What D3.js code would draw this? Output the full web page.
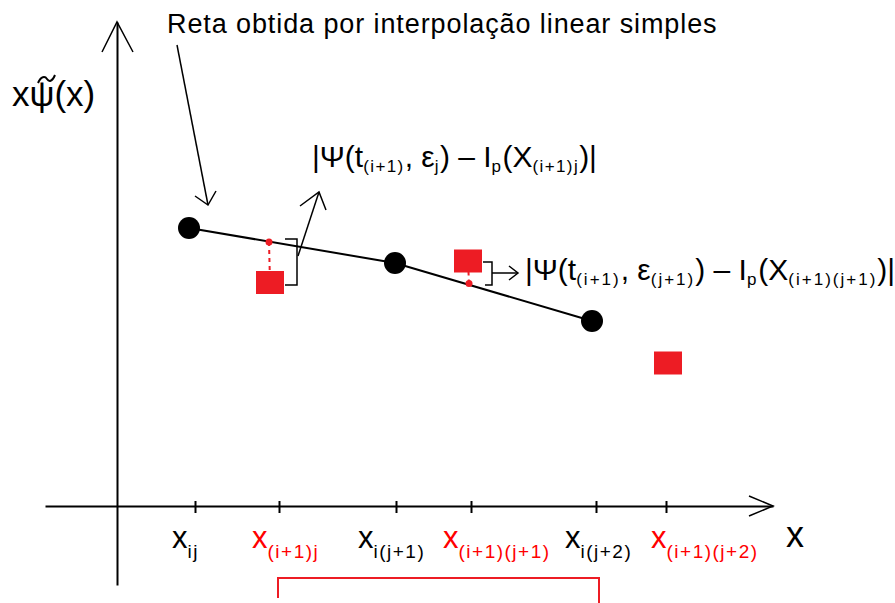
<!DOCTYPE html>
<html>
<head>
<meta charset="utf-8">
<script src="https://cdn.jsdelivr.net/npm/d3@7"></script>
<style>
  body { margin: 0; background: #fff; }
  text { font-family: "Liberation Sans", Arial, sans-serif; }
</style>
</head>
<body>
<div id="chart"></div>
<script>
// tick labels along the x axis (subscripts) and where they sit
var tickSubs = ["ij", "(i+1)j", "i(j+1)", "(i+1)(j+1)", "i(j+2)", "(i+1)(j+2)"];
var tickVals = [0.39, 0.81, 1.395, 1.77, 2.395, 2.745];
var tickRed = [false, true, false, true, false, true];

// known points (black) joined by the interpolation line
var knotX = [0.36, 1.39, 2.375];
var knotY = [1.39, 1.215, 0.925];

// new samples (red squares)
var sampleX = [0.765, 1.755, 2.755];
var sampleY = [1.1175, 1.225, 0.715];

// interpolated value on the line for the first two samples
var interpX = [0.76, 1.76];
var interpY = [1.32, 1.1125];

var width = 895, height = 603;
var red = "#ed1c24";

var svg = d3.select("#chart")
    .append("svg")
    .attr("width", width)
    .attr("height", height);

var x = d3.scaleLinear().domain([-0.36, 3.28]).range([45, 773]);
var y = d3.scaleLinear().domain([-0.395, 2.42]).range([585, 22]);

// axes
var xAxis = svg.append("g")
    .attr("transform", "translate(0," + y(0) + ")")
    .call(d3.axisBottom(x).tickValues(tickVals).tickFormat("").tickSizeOuter(0).tickSizeInner(7));
xAxis.selectAll(".tick line").attr("y1", -5).attr("stroke-width", 2);
xAxis.select(".domain").attr("stroke-width", 2);

var yAxis = svg.append("g")
    .attr("transform", "translate(" + x(0) + ",0)")
    .call(d3.axisLeft(y).tickValues([]).tickSizeOuter(0));
yAxis.select(".domain").attr("stroke-width", 2);

function arrowHead(tip, a, b) {
    svg.append("path")
        .attr("d", "M" + a + "L" + tip + "L" + b)
        .attr("fill", "none")
        .attr("stroke", "#000")
        .attr("stroke-width", 1.5);
}
arrowHead([x(3.28), y(0)], [749, 496], [749, 516]);
arrowHead([x(0), y(2.42)], [102, 52], [133, 52]);

// tick labels
var labelShift = [-23, -27, -38, -28, -31, -15];
tickVals.forEach(function(v, i) {
    var t = svg.append("text")
        .attr("x", x(v) + labelShift[i])
        .attr("y", 548)
        .attr("fill", tickRed[i] ? "#f00" : "#000");
    t.append("tspan").style("font-size", "31px").text("x");
    t.append("tspan").style("font-size", "19px").attr("dy", 10)
        .attr("letter-spacing", 1.5).text(tickSubs[i]);
});

svg.append("text").attr("x", 786).attr("y", 547)
    .style("font-size", "36px").text("x");

// y label x psi~(x)
var yl = svg.append("text").attr("x", 12).attr("y", 106).style("font-size", "35px");
yl.append("tspan").text("x");
yl.append("tspan").text("\u03c8");
yl.append("tspan").text("(x)");
svg.append("path")
    .attr("d", "M38,83 C41,76 45,76 47,79 S52,82 55,75")
    .attr("fill", "none").attr("stroke", "#000").attr("stroke-width", 2);

// interpolation line
var pts = knotX.map(function(d, i) { return [d, knotY[i]]; });
svg.append("path")
    .datum(pts)
    .attr("d", d3.line().x(function(d) { return x(d[0]); }).y(function(d) { return y(d[1]); }))
    .attr("fill", "none")
    .attr("stroke", "#000")
    .attr("stroke-width", 2);

// dashed connectors sample -> line
interpX.forEach(function(v, i) {
    svg.append("line")
        .attr("x1", x(v)).attr("y1", y(interpY[i]))
        .attr("x2", x(sampleX[i])).attr("y2", y(sampleY[i]))
        .attr("stroke", red)
        .attr("stroke-width", 2)
        .attr("stroke-dasharray", "4,4");
});

svg.selectAll("circle.knot")
    .data(pts)
    .enter()
    .append("circle")
    .attr("class", "knot")
    .attr("cx", function(d) { return x(d[0]); })
    .attr("cy", function(d) { return y(d[1]); })
    .attr("r", 11)
    .attr("fill", "#000");

svg.selectAll("circle.interp")
    .data(interpX)
    .enter()
    .append("circle")
    .attr("class", "interp")
    .attr("cx", function(d) { return x(d); })
    .attr("cy", function(d, i) { return y(interpY[i]); })
    .attr("r", 3.5)
    .attr("fill", red);

svg.selectAll("rect.sample")
    .data(sampleX)
    .enter()
    .append("rect")
    .attr("class", "sample")
    .attr("x", function(d) { return x(d) - 14; })
    .attr("y", function(d, i) { return y(sampleY[i]) - 11.5; })
    .attr("width", 28)
    .attr("height", 23)
    .attr("fill", red);

// brackets and arrows
function stroke(d, col, w) {
    svg.append("path").attr("d", d).attr("fill", "none")
        .attr("stroke", col || "#000").attr("stroke-width", w || 1.5);
}
stroke("M285,239H297V285H285");
stroke("M298,256L319,192");
arrowHead([319, 192], [300, 206], [326, 210]);

stroke("M483,262H492V285H485");
stroke("M492,273H518");
arrowHead([518, 273], [509, 266], [509, 280]);

stroke("M177,45L208,205");
arrowHead([208, 205], [195, 196], [216, 191]);

stroke("M278,598V578H599V603", red, 2);

// texts
svg.append("text").attr("x", 167).attr("y", 33)
    .attr("letter-spacing", 0.9)
    .style("font-size", "27px").text("Reta obtida por interpolação linear simples");

function formula(xp, yp, subSpacing, parts) {
    var t = svg.append("text").attr("x", xp).attr("y", yp).style("font-size", "30px");
    parts.forEach(function(p) {
        var s = t.append("tspan").text(p[0]);
        if (p[1]) {
            s.style("font-size", "17px").attr("dy", 5).attr("letter-spacing", subSpacing);
        } else {
            s.attr("dy", p[2] ? -5 : 0);
        }
    });
}
formula(312, 167, 1.4, [["|\u03a8(t"], ["(i+1)", 1], [", \u03b5", 0, 1], ["j", 1], [") \u2013 I", 0, 1],
    ["p", 1], ["(X", 0, 1], ["(i+1)j", 1], [")|", 0, 1]]);
formula(525, 280, 2, [["|\u03a8(t"], ["(i+1)", 1], [", \u03b5", 0, 1], ["(j+1)", 1], [") \u2013 I", 0, 1],
    ["p", 1], ["(X", 0, 1], ["(i+1)(j+1)", 1], [")|", 0, 1]]);
</script>
</body>
</html>
